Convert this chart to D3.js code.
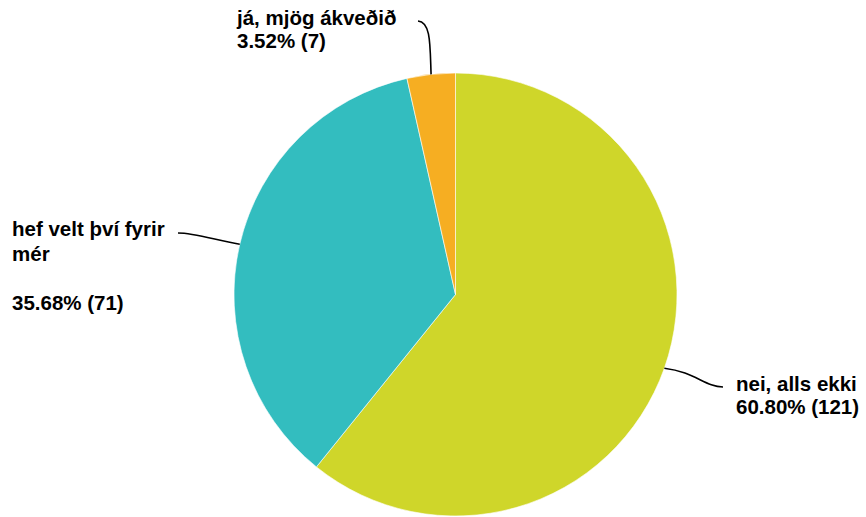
<!DOCTYPE html>
<html>
<head>
<meta charset="utf-8">
<script src="https://cdn.jsdelivr.net/npm/d3@7"></script>
<style>
  html, body { margin: 0; padding: 0; background: #fff; }
  svg { display: block; }
  text { font-family: "Liberation Sans", Arial, sans-serif; font-weight: bold; fill: #000; }
</style>
</head>
<body>
<svg id="chart" width="866" height="517"></svg>
<script>
// Data
const categories = ["nei, alls ekki", "hef velt því fyrir mér", "já, mjög ákveðið"];
const counts = [121, 71, 7];
const colors = ["#cfd62a", "#33bdbf", "#f6ae22"];
// Label line breaks as shown in the chart
const labelLines = [["nei, alls ekki"], ["hef velt því fyrir", "mér", ""], ["já, mjög ákveðið"]];

const width = 866, height = 517;
const cx = 455.5, cy = 294.5, radius = 221.5;

const svg = d3.select("#chart");
const g = svg.append("g").attr("transform", `translate(${cx},${cy})`);

const total = d3.sum(counts);
const data = categories.map((c, i) => ({ name: c, value: counts[i], color: colors[i], lines: labelLines[i] }));

const pie = d3.pie().value(d => d.value).sort(null);
const arc = d3.arc().innerRadius(0).outerRadius(radius);
const arcs = pie(data);

g.selectAll("path.slice").data(arcs).join("path")
  .attr("class", "slice")
  .attr("d", arc)
  .attr("fill", d => d.data.color)
  .attr("stroke", "#fff")
  .attr("stroke-width", 0.6);

// Label layout (positions relative to chart area)
const layout = [
  { end: [723, 387], ctrl: [[695, 372], [705, 387]], tx: 736, ty: 391, anchor: "start", lh: 23 },
  { end: [178, 233], ctrl: [[215, 240], [195, 233]], tx: 12, ty: 236, anchor: "start", lh: 24.5 },
  { end: [418, 21], ctrl: [[430, 45], [431, 22]], tx: 237, ty: 25, anchor: "start", lh: 23 }
];

const fmt = d3.format(".2f");
arcs.forEach((a, i) => {
  const mid = (a.startAngle + a.endAngle) / 2;
  const sx = cx + radius * Math.sin(mid);
  const sy = cy - radius * Math.cos(mid);
  const L = layout[i];
  const p = d3.path();
  p.moveTo(sx, sy);
  p.bezierCurveTo(L.ctrl[0][0], L.ctrl[0][1], L.ctrl[1][0], L.ctrl[1][1], L.end[0], L.end[1]);
  svg.append("path").attr("d", p.toString())
    .attr("fill", "none").attr("stroke", "#000").attr("stroke-width", 1.6);

  const lines = a.data.lines.concat([`${fmt(a.data.value / total * 100)}% (${a.data.value})`]);
  const t = svg.append("text")
    .attr("x", L.tx).attr("y", L.ty)
    .attr("text-anchor", L.anchor)
    .style("font-size", "20.5px");
  lines.forEach((ln, j) => {
    t.append("tspan").attr("x", L.tx).attr("y", L.ty + j * L.lh).text(ln);
  });
});
</script>
</body>
</html>
